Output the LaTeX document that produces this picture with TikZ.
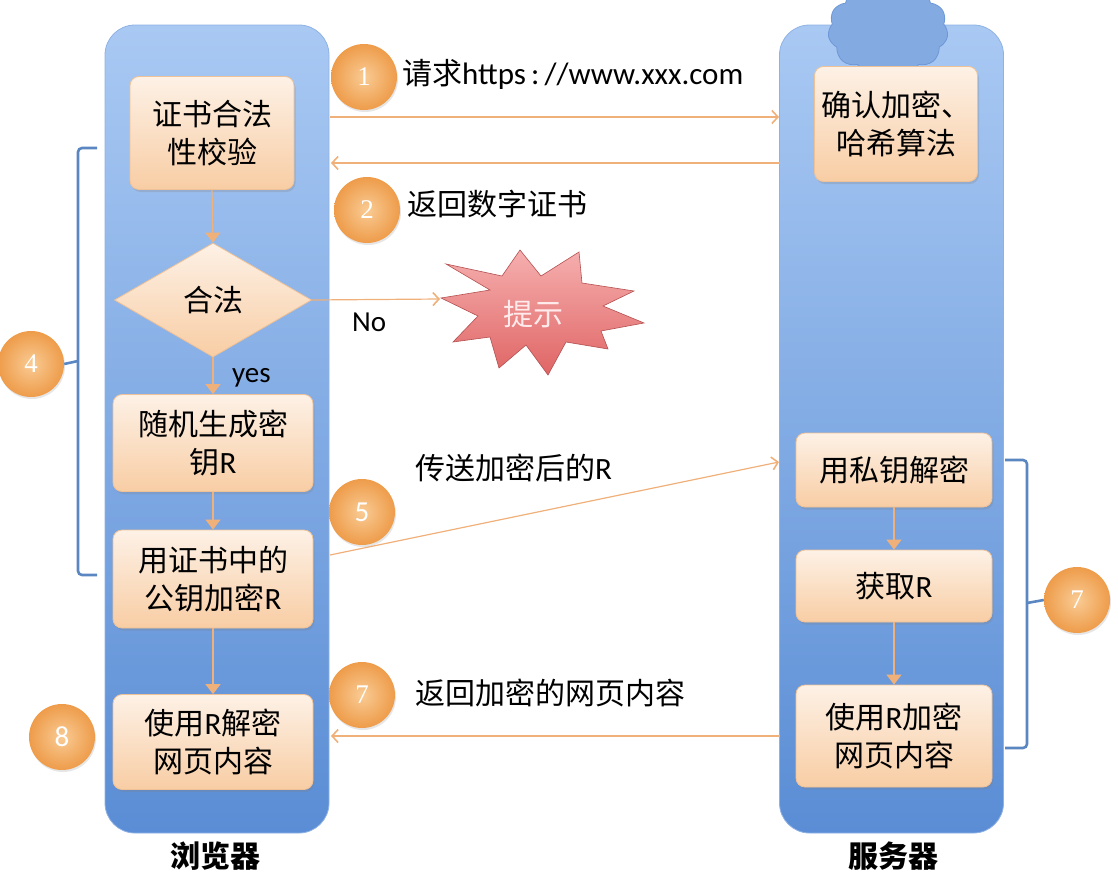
\documentclass[tikz,border=0pt]{standalone}
\usepackage{fontspec}
\setmainfont{Carlito}
\newfontfamily\cjk{Noto Sans CJK SC}
\newfontfamily\numserif{Liberation Serif}
\usetikzlibrary{arrows.meta,shapes.geometric,shapes.symbols,shadows}
\definecolor{colTop}{HTML}{A9C9F3}
\definecolor{colBot}{HTML}{5A8DD5}
\definecolor{colEdge}{HTML}{8FB2E4}
\definecolor{boxTop}{HTML}{FDF1E6}
\definecolor{boxBot}{HTML}{F8CDA4}
\definecolor{boxEdge}{HTML}{EFC196}
\definecolor{arrowC}{HTML}{F0B07A}
\definecolor{ballIn}{HTML}{F9CB94}
\definecolor{ballOut}{HTML}{EE9C4A}
\definecolor{brackC}{HTML}{5A86C2}
\definecolor{starTop}{HTML}{F6AFAF}
\definecolor{starBot}{HTML}{E06565}
\definecolor{cloudC}{HTML}{84AAE2}
\definecolor{cloudEdge}{HTML}{6D97D6}
\tikzset{
  column/.style={rectangle, rounded corners=30pt, top color=colTop, bottom color=colBot, draw=colEdge, line width=0.8pt, minimum width=224pt, minimum height=808pt},
  procbox/.style={rectangle, rounded corners=9pt, top color=boxTop, bottom color=boxBot, draw=boxEdge, line width=0.8pt, drop shadow={opacity=0.25, shadow xshift=1.5pt, shadow yshift=-2.5pt}, align=center, font=\cjk\fontsize{30}{38}\selectfont, inner sep=2pt},
  decide/.style={diamond, aspect=1.72, top color=boxTop, bottom color=boxBot, draw=boxEdge, line width=0.8pt, minimum width=197pt, minimum height=114pt, inner sep=0pt, font=\cjk\fontsize{30}{38}\selectfont},
  ball/.style={circle, minimum size=66pt, inner sep=0pt, inner color=ballIn, outer color=ballOut, drop shadow={opacity=0.2, shadow xshift=1pt, shadow yshift=-2pt}, text=white, font=\numserif\fontsize{27}{27}\selectfont},
  ballsans/.style={ball, font=\fontsize{29}{29}\selectfont},
  flow/.style={draw=arrowC, line width=1.2pt, -{Triangle[length=10pt,width=15pt]}},
  msg/.style={draw=arrowC, line width=1.2pt, -{Straight Barb[length=6pt,width=13pt,line width=1.6pt]}},
  brack/.style={draw=brackC, line width=2.6pt, rounded corners=4pt},
  lbl/.style={anchor=west, inner sep=0pt, font=\cjk\fontsize{30}{38}\selectfont},
  foot/.style={font=\cjk\bfseries\fontsize{30}{30}\selectfont},
  lat/.style={font=\fontsize{29}{29}\selectfont, inner sep=0pt}
}
\newcommand{\lt}[1]{{\normalfont\fontsize{31}{31}\selectfont #1}}
\begin{document}
\begin{tikzpicture}[x=1pt,y=-1pt]
\useasboundingbox (0,0) rectangle (1118,878);
% columns
\node[column] (colL) at (217,429) {};
\node[column] (colR) at (891.5,429) {};
% cloud
\node[cloud, cloud puffs=11, cloud puff arc=110, aspect=1.4, fill=cloudC, draw=cloudEdge, line width=0.8pt, minimum width=120pt, minimum height=95pt] (cloud) at (888,30) {};
% left boxes
\node[procbox, minimum width=164pt, minimum height=113pt] (b1) at (212,133) {证书合法\\性校验};
\node[decide] (d1) at (213,300) {合法};
\node[procbox, minimum width=200pt, minimum height=97pt] (b2) at (213,443) {随机生成密\\钥\lt{R}};
\node[procbox, minimum width=200pt, minimum height=98pt] (b3) at (213,579) {用证书中的\\公钥加密\lt{R}};
\node[procbox, minimum width=200pt, minimum height=95pt] (b4) at (213,742) {使用\lt{R}解密\\网页内容};
% right boxes
\node[procbox, minimum width=163pt, minimum height=115pt] (s1) at (896,124) {确认加密、\\哈希算法};
\node[procbox, minimum width=196pt, minimum height=74pt] (s2) at (894,470) {用私钥解密};
\node[procbox, minimum width=196pt, minimum height=72pt] (s3) at (894,586) {获取\lt{R}};
\node[procbox, minimum width=196pt, minimum height=102pt] (s4) at (894,736) {使用\lt{R}加密\\网页内容};
% star
\path[top color=starTop, bottom color=starBot, draw=starBot!80!black, line width=0.6pt]
  (441,298) -- (490,290) -- (446,264) -- (502,276) -- (520,250) -- (541,276) -- (579,252) -- (582,283)
  -- (634,291) -- (603,306) -- (644,323) -- (601,331) -- (608,349) -- (566,342) -- (548,375) -- (526,345)
  -- (499,368) -- (490,337) -- (453,342) -- (478,316) -- cycle;
\node[font=\cjk\fontsize{30}{30}\selectfont, text=white!92!red] (star) at (533,314) {提示};
% flow arrows
\draw[flow] (b1.south) -- (d1.north);
\draw[flow] (d1.south) -- (b2.north);
\draw[flow] (b2.south) -- (b3.north);
\draw[flow] (b3.south) -- (b4.north);
\draw[flow] (s2.south) -- (s3.north);
\draw[flow] (s3.south) -- (s4.north);
\coordinate (starL) at (440,299);
\draw[msg] (d1.east) -- (starL);
\node[lat, anchor=west] (yes) at (232,378) {yes};
\node[lat, anchor=west] (no) at (352,322) {No};
% messages
\coordinate (m1s) at (330,117); \coordinate (m1e) at (779,117);
\coordinate (m2s) at (780,163); \coordinate (m2e) at (331,163);
\coordinate (m5s) at (330,555); \coordinate (m5e) at (779,462);
\coordinate (m7s) at (780,736); \coordinate (m7e) at (331,736);
\draw[msg] (m1s) -- (m1e);
\draw[msg] (m2s) -- (m2e);
\draw[msg] (m5s) -- (m5e);
\draw[msg] (m7s) -- (m7e);
\node[lbl] (t1) at (402,74) {请求\lt{https\,:\,//www.xxx.com}};
\node[lbl] (t2) at (407,204) {返回数字证书};
\node[lbl] (t5) at (415,468) {传送加密后的\lt{R}};
\node[lbl] (t7) at (415,693) {返回加密的网页内容};
% balls
\node[ball] (c1) at (364,77) {1};
\node[ball] (c2) at (367,210) {2};
\node[ballsans] (c5) at (362,512) {5};
\node[ball] (c7a) at (362,695) {7};
\node[ballsans] (c8) at (62,737) {8};
\node[ball] (c4) at (31,364) {4};
\node[ball] (c7b) at (1077,600) {7};
% brackets
\coordinate (lbT) at (97,148); \coordinate (lbB) at (97,575);
\draw[brack] (lbT) -- (78,148) -- (78,575) -- (lbB);
\draw[brack] (78,361) -- (c4.east);
\coordinate (rbT) at (1005,460); \coordinate (rbB) at (1005,748);
\draw[brack] (rbT) -- (1027,460) -- (1027,748) -- (rbB);
\draw[brack] (1027,603) -- (c7b.west);
% footers
\node[foot] (fL) at (215,856) {浏览器};
\node[foot] (fR) at (893,856) {服务器};
\end{tikzpicture}
\end{document}
